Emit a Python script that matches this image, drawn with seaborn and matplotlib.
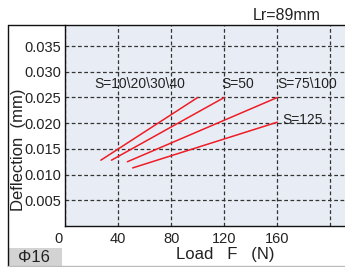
import pandas as pd
import seaborn as sns
import matplotlib.pyplot as plt
from matplotlib.lines import Line2D
from matplotlib.patches import Rectangle
import matplotlib.transforms as mtransforms

# start / end points of each red line
series_names = ["S=10\\20\\30\\40", "S=50", "S=75\\100", "S=125"]
load_start = [27, 35, 47, 51]
load_end = [100, 120, 160, 160]
defl_start = [0.0128, 0.0128, 0.0125, 0.0113]
defl_end = [0.025, 0.025, 0.025, 0.0202]

# where the labels sit (data coords)
label_x = [22, 118, 160, 164]
label_y = [0.0268, 0.0268, 0.0268, 0.0198]

x_ticks = [0, 40, 80, 120, 160, 200]
x_ticklabels = ["0", "40", "80", "120", "160", ""]
y_ticks = [0.005, 0.010, 0.015, 0.020, 0.025, 0.030, 0.035]
y_ticklabels = ["0.005", "0.010", "0.015", "0.020", "0.025", "0.030", "0.035"]

rows = []
for name, x0, x1, y0, y1 in zip(series_names, load_start, load_end, defl_start, defl_end):
    rows.append({"series": name, "load": x0, "defl": y0})
    rows.append({"series": name, "load": x1, "defl": y1})
df = pd.DataFrame(rows)

sns.set_theme(style="white")
plt.rcParams["font.family"] = ["Liberation Sans", "DejaVu Sans"]

W, H = 345, 267
fig = plt.figure(figsize=(W / 100, H / 100), dpi=100)
fig.patch.set_facecolor("white")

# plot area in pixels: left 65, right 345, top 25, bottom 226
ax = fig.add_axes([65 / W, (H - 226) / H, (345 - 65) / W, (226 - 25) / H])
ax.set_facecolor("#e8edf5")

sns.lineplot(ax=ax, data=df, x="load", y="defl", hue="series", units="series",
             estimator=None, palette=["#ee1c25"] * 4, linewidth=1.1, legend=False)

ax.set_xlim(0, 211)
ax.set_ylim(0, 0.0391)
ax.set_xticks(x_ticks)
ax.set_xticklabels(x_ticklabels)
ax.set_yticks(y_ticks)
ax.set_yticklabels(y_ticklabels)
ax.tick_params(length=0, labelsize=10.5, colors="#222222")
ax.tick_params(axis="x", pad=4)
ax.tick_params(axis="y", pad=3)
for lab in ax.get_xticklabels() + ax.get_yticklabels():
    lab.set_family(["Liberation Sans Narrow", "Liberation Sans", "DejaVu Sans"])
# the "0" sits a little left of the axis
ax.get_xticklabels()[0].set_transform(
    ax.get_xticklabels()[0].get_transform()
    + mtransforms.ScaledTranslation(-6.5 / 100, 0, fig.dpi_scale_trans))

ax.grid(True, color="#333333", linestyle=(0, (3, 2)), linewidth=0.9)

for side in ["top", "right"]:
    ax.spines[side].set_visible(False)
for side in ["left", "bottom"]:
    ax.spines[side].set_color("#111111")
    ax.spines[side].set_linewidth(1.0)

ax.set_xlabel("")
ax.set_ylabel("")

for name, lx, ly in zip(series_names, label_x, label_y):
    ax.text(lx, ly, name, fontsize=10, color="#222222", ha="left", va="baseline")

# labels
fig.text(19 / W, 1 - 150 / H, "Deflection  (mm)", rotation=90, fontsize=12,
         ha="center", va="center", color="#222222")
fig.text(225 / W, 1 - 255 / H, "Load   F   (N)", fontsize=12,
         ha="center", va="center", color="#222222")
fig.text(287 / W, 1 - 16 / H, "Lr=89mm", fontsize=11.5,
         ha="center", va="center", color="#222222")

# outer frame
fig.add_artist(Line2D([7.5 / W, 7.5 / W], [1 - 25 / H, 0], color="#111111", lw=1.0))
fig.add_artist(Line2D([7.5 / W, 1], [1 - 25 / H, 1 - 25 / H], color="#111111", lw=1.0))
fig.add_artist(Line2D([7.5 / W, 1], [1 - 265.5 / H, 1 - 265.5 / H], color="#bbbbbb", lw=1.0))

# diameter tag
fig.add_artist(Rectangle((8 / W, 0), (62 - 8) / W, (267 - 248) / H,
                         transform=fig.transFigure, facecolor="#d3d3d3", edgecolor="none"))
fig.text(34 / W, 1 - 258 / H, "Φ16", fontsize=12, ha="center", va="center", color="#222222")

fig.savefig("out.png", dpi=100)
